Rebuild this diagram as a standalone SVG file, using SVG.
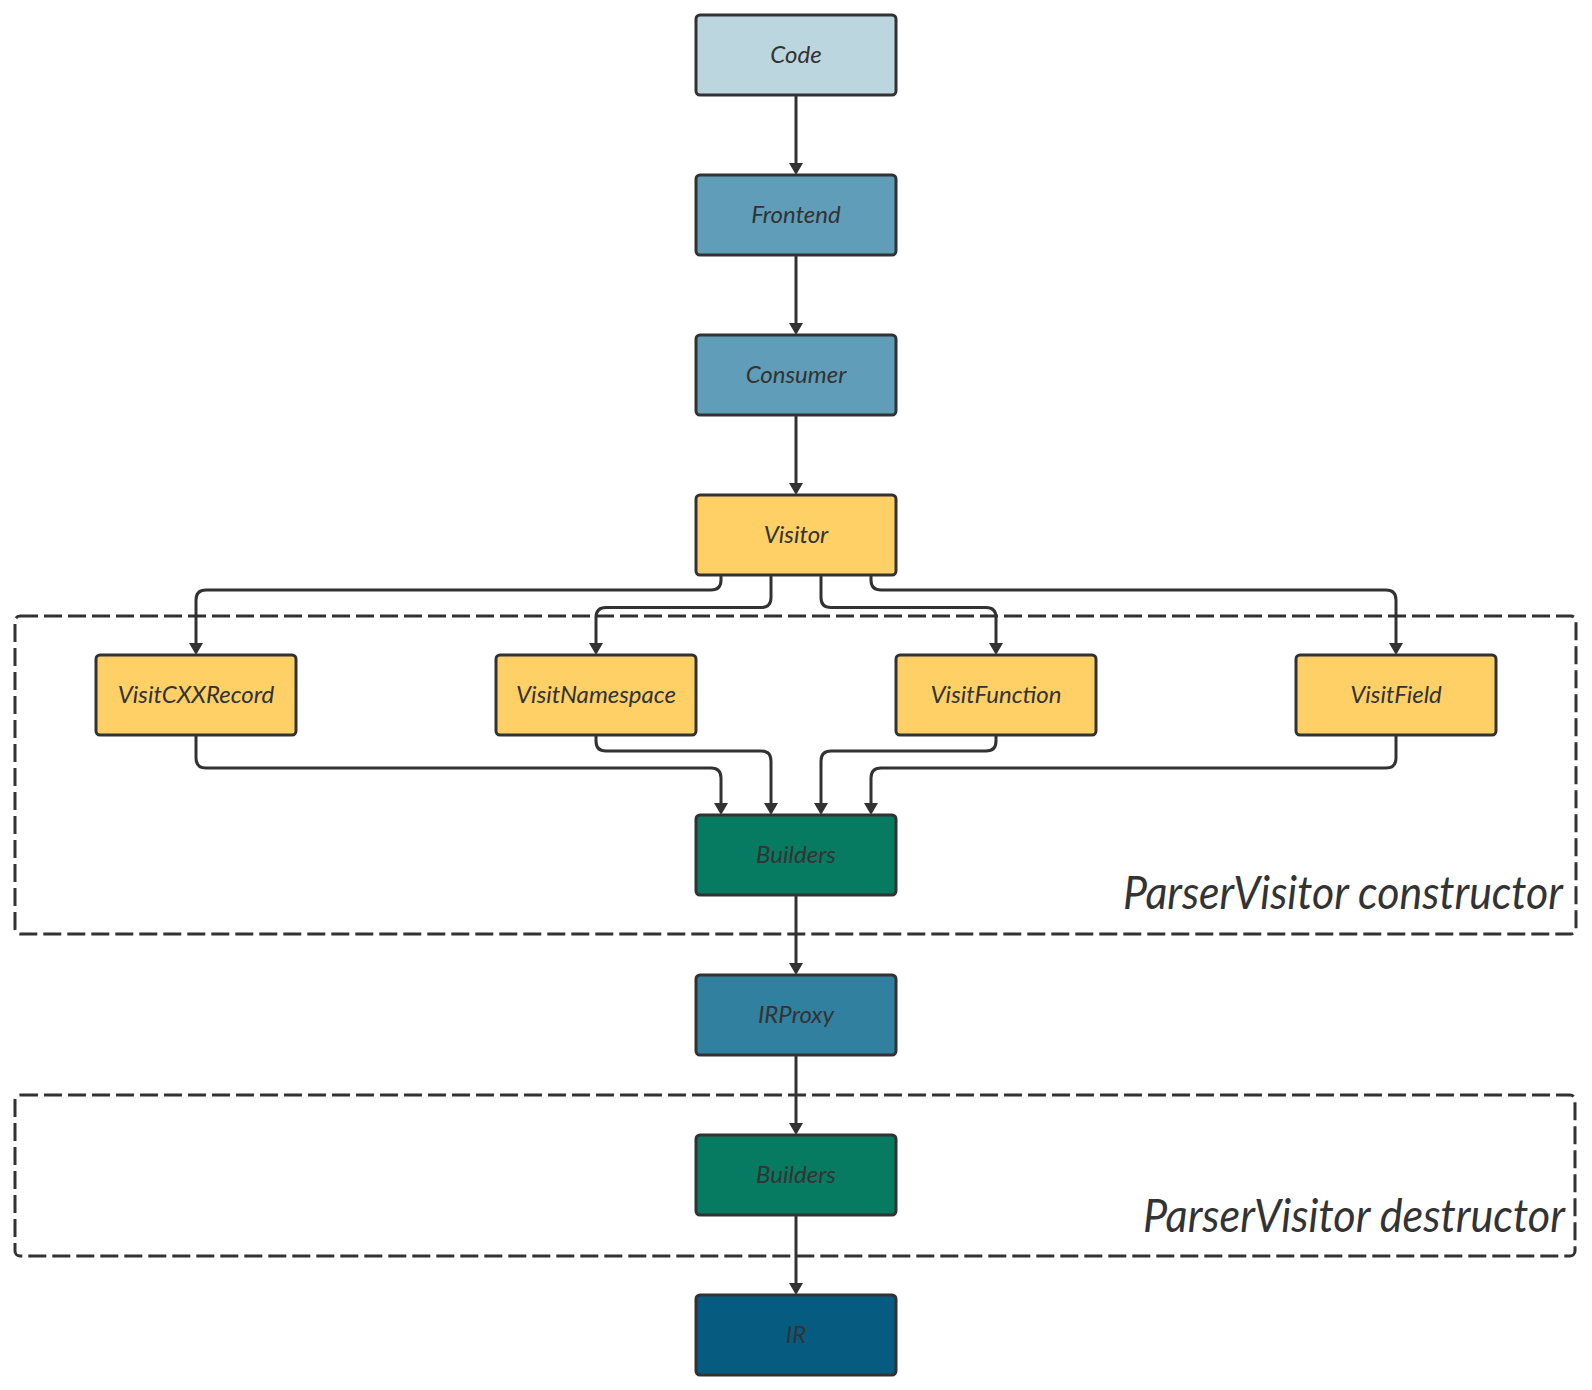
<svg xmlns="http://www.w3.org/2000/svg" width="1592" height="1390" viewBox="0 0 1592 1390">
<style>
.node rect{stroke:#323232;stroke-width:3}
.node text{font-family:Lato,"Open Sans","Liberation Sans",sans-serif;font-style:italic;font-size:24px;fill:#333;text-anchor:middle}
.edge{fill:none;stroke:#323232;stroke-width:3;marker-end:url(#arr)}
.group{fill:none;stroke:#323232;stroke-width:3;stroke-dasharray:18 6}
.glabel{font-family:Lato,"Open Sans","Liberation Sans",sans-serif;font-style:italic;font-size:46px;fill:#333;text-anchor:end}
</style>
<defs>
<marker id="arr" markerUnits="userSpaceOnUse" markerWidth="14" markerHeight="14" viewBox="0 0 12 14" refX="9" refY="7" orient="auto">
<path d="M0,0 L12,7 L0,14 z" fill="#323232"/>
</marker>
</defs>
<rect width="1592" height="1390" fill="#ffffff"/>
<g id="groups">
<rect class="group" x="15" y="616" width="1561" height="318" rx="5"/>
<text class="glabel" x="1563" y="909" textLength="440" lengthAdjust="spacingAndGlyphs">ParserVisitor constructor</text>
<rect class="group" x="15" y="1095" width="1560" height="161" rx="5"/>
<text class="glabel" x="1565" y="1232" textLength="422" lengthAdjust="spacingAndGlyphs">ParserVisitor destructor</text>
</g>
<g id="connectors">
<path class="edge" d="M796 95 V172"/>
<path class="edge" d="M796 255 V332"/>
<path class="edge" d="M796 415 V492"/>
<path class="edge" d="M721 575 V580 Q721 590 711 590 H206 Q196 590 196 600 V652"/>
<path class="edge" d="M771 575 V597.5 Q771 607.5 761 607.5 H606 Q596 607.5 596 617.5 V652"/>
<path class="edge" d="M821 575 V597.5 Q821 607.5 831 607.5 H986 Q996 607.5 996 617.5 V652"/>
<path class="edge" d="M871 575 V580 Q871 590 881 590 H1386 Q1396 590 1396 600 V652"/>
<path class="edge" d="M196 735 V758 Q196 768 206 768 H711 Q721 768 721 778 V812"/>
<path class="edge" d="M596 735 V741 Q596 751 606 751 H761 Q771 751 771 761 V812"/>
<path class="edge" d="M996 735 V741 Q996 751 986 751 H831 Q821 751 821 761 V812"/>
<path class="edge" d="M1396 735 V758 Q1396 768 1386 768 H881 Q871 768 871 778 V812"/>
<path class="edge" d="M796 895 V972"/>
<path class="edge" d="M796 1055 V1132"/>
<path class="edge" d="M796 1215 V1292"/>
</g>
<g id="code" class="node"><rect x="696" y="15" width="200" height="80" rx="4" fill="#BCD6E0"/><text x="796" y="63">Code</text></g>
<g id="frontend" class="node"><rect x="696" y="175" width="200" height="80" rx="4" fill="#5F9DB8"/><text x="796" y="223">Frontend</text></g>
<g id="consumer" class="node"><rect x="696" y="335" width="200" height="80" rx="4" fill="#5F9DB8"/><text x="796" y="383">Consumer</text></g>
<g id="visitor" class="node"><rect x="696" y="495" width="200" height="80" rx="4" fill="#FED066"/><text x="796" y="543">Visitor</text></g>
<g id="visitcxxrecord" class="node"><rect x="96" y="655" width="200" height="80" rx="4" fill="#FED066"/><text x="196" y="703">VisitCXXRecord</text></g>
<g id="visitnamespace" class="node"><rect x="496" y="655" width="200" height="80" rx="4" fill="#FED066"/><text x="596" y="703">VisitNamespace</text></g>
<g id="visitfunction" class="node"><rect x="896" y="655" width="200" height="80" rx="4" fill="#FED066"/><text x="996" y="703">VisitFunction</text></g>
<g id="visitfield" class="node"><rect x="1296" y="655" width="200" height="80" rx="4" fill="#FED066"/><text x="1396" y="703">VisitField</text></g>
<g id="builders1" class="node"><rect x="696" y="815" width="200" height="80" rx="4" fill="#067B61"/><text x="796" y="863">Builders</text></g>
<g id="irproxy" class="node"><rect x="696" y="975" width="200" height="80" rx="4" fill="#31809F"/><text x="796" y="1023">IRProxy</text></g>
<g id="builders2" class="node"><rect x="696" y="1135" width="200" height="80" rx="4" fill="#067B61"/><text x="796" y="1183">Builders</text></g>
<g id="ir" class="node"><rect x="696" y="1295" width="200" height="80" rx="4" fill="#065C80"/><text x="796" y="1343">IR</text></g>
</svg>
